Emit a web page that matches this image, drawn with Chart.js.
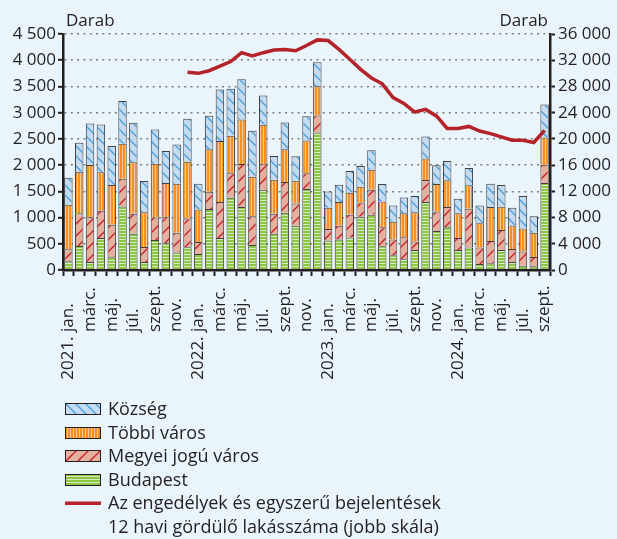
<!DOCTYPE html>
<html>
<head>
<meta charset="utf-8">
<script src="https://cdn.jsdelivr.net/npm/chart.js@4.4.1/dist/chart.umd.min.js"></script>
<style>
  body { margin: 0; background: #eaf4fb; font-family: "Open Sans", sans-serif; color: #231f20; }
  #wrap { position: relative; width: 617px; height: 539px; overflow: hidden; }
  #chart { display: block; }
  #legend { position: absolute; left: 65px; top: 397px; font-size: 18px; line-height: 23.5px; }
  .item { display: flex; align-items: flex-start; white-space: pre-line; }
  .item canvas { display: block; margin-top: 6px; margin-right: 7px; flex: none; }
</style>
</head>
<body>
<div id="wrap">
  <canvas id="chart" width="617" height="392"></canvas>
  <div id="legend"></div>
</div>
<script>
// havi bontás 2021 jan - 2024 szept
var years = [2021, 2022, 2023, 2024];
var months = ['jan.', 'febr.', 'márc.', 'ápr.', 'máj.', 'jún.', 'júl.', 'aug.', 'szept.', 'okt.', 'nov.', 'dec.'];
var nMonths = 45;

var budapest = [166, 459, 153, 612, 242, 1212, 689, 153, 574, 510, 332, 434,
                306, 1161, 612, 1378, 1199, 478, 1531, 689, 1091, 842, 1543, 2621,
                561, 580, 619, 1014, 1052, 453, 281, 204, 383, 1295, 746, 816,
                383, 427, 115, 128, 383, 153, 83, 70, 1658];
var megyei = [229, 625, 855, 517, 619, 529, 382, 287, 427, 498, 376, 548,
              230, 331, 683, 465, 823, 549, 484, 382, 586, 427, 300, 326,
              223, 262, 433, 274, 479, 363, 299, 421, 159, 421, 370, 383,
              229, 740, 312, 427, 382, 249, 268, 179, 351];
var tobbi = [849, 791, 995, 733, 759, 664, 983, 663, 1027, 650, 938, 1084,
             618, 810, 1167, 715, 848, 752, 753, 651, 625, 434, 625, 555,
             402, 453, 421, 300, 382, 491, 338, 459, 561, 408, 523, 510,
             472, 447, 466, 644, 440, 446, 440, 459, 517];
var kozseg = [516, 549, 791, 912, 746, 816, 752, 594, 651, 613, 746, 817,
              492, 638, 982, 899, 765, 874, 561, 453, 511, 466, 466, 459,
              313, 331, 415, 396, 370, 332, 313, 300, 307, 421, 357, 370,
              275, 331, 338, 447, 415, 338, 619, 319, 631];
// 12 havi gördülő összeg (jobb skála)
var rolling = [null, null, null, null, null, null, null, null, null, null, null, 30150,
               30000, 30400, 31100, 31800, 33150, 32650, 33150, 33550, 33650, 33450, 34250, 35100,
               35000, 33650, 32150, 30600, 29300, 28400, 26300, 25400, 24100, 24500, 23500, 21600,
               21600, 21900, 21200, 20800, 20300, 19800, 19800, 19450, 21300];

var leftTicks = { min: 0, max: 4500, step: 500 };
var rightTicks = { min: 0, max: 36000, step: 4000 };
var axisTitle = 'Darab';
var lineLabel = 'Az engedélyek és egyszerű bejelentések\n12 havi gördülő lakásszáma (jobb skála)';

var categories = [];
for (var i = 0; i < nMonths; i++) {
    categories.push(years[Math.floor(i / 12)] + '. ' + months[i % 12]);
}

var FONT = '17px "Open Sans"';
var INK = '#231f20';

function makePattern(bg, fg, kind, size) {
    var c = document.createElement('canvas');
    c.width = size; c.height = size;
    var g = c.getContext('2d');
    g.fillStyle = bg;
    g.fillRect(0, 0, size, size);
    g.fillStyle = fg;
    g.strokeStyle = fg;
    if (kind === 'v') {
        g.fillRect(size - 1, 0, 1, size);
    } else if (kind === 'h') {
        g.fillRect(0, size - 1, size, 1);
    } else {
        g.lineWidth = 1.4;
        g.beginPath();
        for (var k = -1; k <= 1; k++) {
            if (kind === 'back') {
                g.moveTo(-1, -1 + k * size);
                g.lineTo(size + 1, size + 1 + k * size);
            } else {
                g.moveTo(-1, size + 1 + k * size);
                g.lineTo(size + 1, -1 + k * size);
            }
        }
        g.stroke();
    }
    return document.createElement('canvas').getContext('2d').createPattern(c, 'repeat');
}

var patKozseg = makePattern('#c4dcf1', '#4f9fd8', 'back', 10);
var patTobbi = makePattern('#f7901e', '#fcc896', 'v', 3);
var patMegyei = makePattern('#e5b19e', '#c8202a', 'fwd', 12);
var patBudapest = makePattern('#8cc540', '#d9ecc0', 'h', 3);

function fmt(v) {
    return String(v).replace(/\B(?=(\d{3})+(?!\d))/g, ' ');
}

// x tengely feliratai: hónap a közös alapvonaltól felfelé, évszám alatta
var xLabelsPlugin = {
    id: 'xLabels',
    afterDraw: function (chart) {
        var xs = chart.scales.x;
        var c = chart.ctx;
        var base = xs.top + 62;
        c.save();
        c.font = FONT;
        c.fillStyle = INK;
        c.textBaseline = 'middle';
        for (var i = 0; i < categories.length; i += 2) {
            var x = xs.getPixelForTick(i);
            c.save();
            c.translate(x, base);
            c.rotate(-Math.PI / 2);
            c.textAlign = 'left';
            c.fillText(months[i % 12], 0, 0);
            if (i % 12 === 0) {
                c.textAlign = 'right';
                c.fillText(years[i / 12] + '. ', 0, 0);
            }
            c.restore();
        }
        var a = chart.chartArea;
        c.textBaseline = 'alphabetic';
        c.textAlign = 'left';
        c.fillText(axisTitle, a.left + 3, a.top - 8);
        c.textAlign = 'right';
        c.fillText(axisTitle, a.right - 2, a.top - 8);
        c.restore();
    }
};

var barBorder = 'rgba(35,31,32,0.85)';

var chart = new Chart(document.getElementById('chart'), {
    type: 'bar',
    data: {
        labels: categories,
        datasets: [
            {
                type: 'line', label: lineLabel, data: rolling, yAxisID: 'y1',
                borderColor: '#b5232a', backgroundColor: '#b5232a', borderWidth: 3.5,
                pointRadius: 0, tension: 0, fill: false
            },
            { label: 'Budapest', data: budapest, backgroundColor: patBudapest, borderColor: barBorder, borderWidth: 1 },
            { label: 'Megyei jogú város', data: megyei, backgroundColor: patMegyei, borderColor: barBorder, borderWidth: 1 },
            { label: 'Többi város', data: tobbi, backgroundColor: patTobbi, borderColor: barBorder, borderWidth: 1 },
            { label: 'Község', data: kozseg, backgroundColor: patKozseg, borderColor: barBorder, borderWidth: 1 }
        ]
    },
    options: {
        responsive: false,
        devicePixelRatio: 1,
        animation: false,
        datasets: { bar: { categoryPercentage: 1, barPercentage: 0.78 } },
        layout: { padding: { top: 34, left: 0, right: 0, bottom: 0 } },
        plugins: { legend: { display: false }, tooltip: { enabled: false } },
        scales: {
            x: {
                stacked: true,
                ticks: { display: false },
                grid: { drawOnChartArea: false, offset: true, tickLength: 6, tickWidth: 2, tickColor: INK },
                border: { color: INK, width: 2.5, z: 1 },
                afterFit: function (s) { s.height = 122; }
            },
            y: {
                stacked: true,
                min: leftTicks.min, max: leftTicks.max,
                ticks: { stepSize: leftTicks.step, color: INK, font: { family: 'Open Sans', size: 17 }, padding: 2, callback: fmt },
                grid: { color: '#7d7d7d', lineWidth: 1.6, tickLength: 5, tickWidth: 2, tickColor: INK },
                border: { color: INK, width: 2.5, dash: [2, 4.3], z: 1 },
                afterFit: function (s) { s.width = 63; }
            },
            y1: {
                position: 'right',
                min: rightTicks.min, max: rightTicks.max,
                ticks: { stepSize: rightTicks.step, color: INK, font: { family: 'Open Sans', size: 17 }, padding: 3, callback: fmt },
                grid: { drawOnChartArea: false, tickLength: 5, tickWidth: 2, tickColor: INK },
                border: { color: INK, width: 2.5, z: 1 },
                afterFit: function (s) { s.width = 67; }
            }
        }
    },
    plugins: [xLabelsPlugin]
});

// jelmagyarázat: felülről lefelé a halmozás fordított sorrendjében, a vonal utoljára
var legend = document.getElementById('legend');
var order = [4, 3, 2, 1, 0];
order.forEach(function (idx) {
    var ds = chart.data.datasets[idx];
    var row = document.createElement('div');
    row.className = 'item';
    var sw = document.createElement('canvas');
    sw.width = 36; sw.height = 12;
    var g = sw.getContext('2d');
    if (ds.type === 'line') {
        g.fillStyle = ds.borderColor;
        g.fillRect(0, 4.5, 36, 3.5);
    } else {
        g.fillStyle = ds.backgroundColor;
        g.fillRect(0, 0, 36, 12);
        g.strokeStyle = INK;
        g.lineWidth = 1;
        g.strokeRect(0.5, 0.5, 35, 11);
    }
    row.appendChild(sw);
    var t = document.createElement('span');
    t.textContent = ds.label;
    row.appendChild(t);
    legend.appendChild(row);
});
</script>
</body>
</html>
